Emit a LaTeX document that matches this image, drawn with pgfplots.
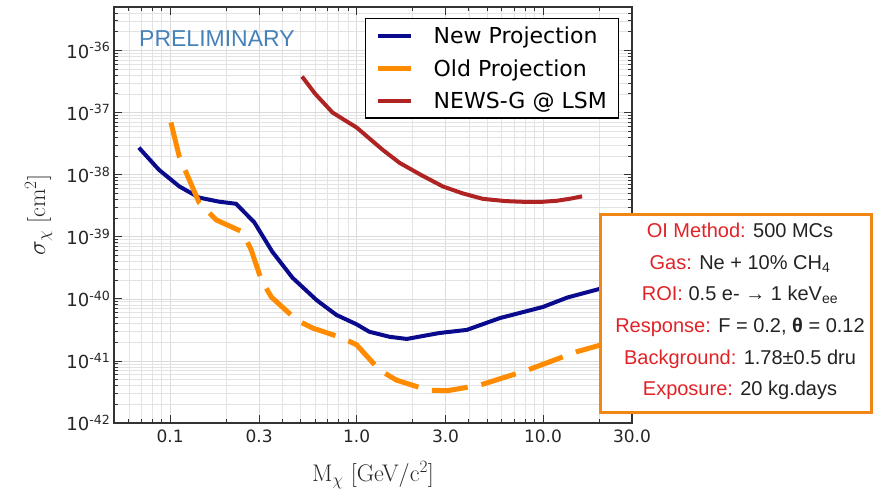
\documentclass[border=0pt]{standalone}
\usepackage{fontspec}
\usepackage{pgfplots}
\pgfplotsset{compat=1.18}
\newfontfamily\dejavu{DejaVu Sans}
\newfontfamily\helv{Liberation Sans}
\definecolor{newblue}{RGB}{10,10,140}
\definecolor{oldorange}{RGB}{255,140,0}
\definecolor{newsred}{RGB}{175,35,35}
\definecolor{prelim}{RGB}{70,130,185}
\definecolor{boxred}{RGB}{225,35,40}
\definecolor{boxtext}{RGB}{35,35,35}
\definecolor{boxorange}{RGB}{240,135,20}
\begin{document}
\begin{tikzpicture}
\useasboundingbox (-114pt,-65pt) rectangle (759pt,423pt);
\begin{axis}[
  at={(0pt,0pt)}, anchor=south west,
  scale only axis, width=518pt, height=416pt,
  xmode=log, ymode=log,
  xmin=0.05, xmax=30, ymin=1e-42, ymax=5e-36,
  xtick={0.1,0.3,1,3,10,30},
  xticklabels={0.1,0.3,1.0,3.0,10.0,30.0},
  minor xtick={0.05,0.06,0.07,0.08,0.09,0.2,0.4,0.5,0.6,0.7,0.8,0.9,2,4,5,6,7,8,9,20},
  ytick={1e-42,1e-41,1e-40,1e-39,1e-38,1e-37,1e-36},
  yticklabels={10\textsuperscript{-42},10\textsuperscript{-41},10\textsuperscript{-40},10\textsuperscript{-39},10\textsuperscript{-38},10\textsuperscript{-37},10\textsuperscript{-36}},
  minor ytick={2e-42,3e-42,4e-42,5e-42,6e-42,7e-42,8e-42,9e-42,
    2e-41,3e-41,4e-41,5e-41,6e-41,7e-41,8e-41,9e-41,
    2e-40,3e-40,4e-40,5e-40,6e-40,7e-40,8e-40,9e-40,
    2e-39,3e-39,4e-39,5e-39,6e-39,7e-39,8e-39,9e-39,
    2e-38,3e-38,4e-38,5e-38,6e-38,7e-38,8e-38,9e-38,
    2e-37,3e-37,4e-37,5e-37,6e-37,7e-37,8e-37,9e-37,
    2e-36,3e-36,4e-36},
  grid=both,
  major grid style={black!14, line width=0.6pt},
  minor grid style={black!11, line width=0.5pt},
  tick align=inside,
  major tick length=8pt, minor tick length=4pt,
  every tick/.style={black!80, line width=0.8pt},
  axis line style={black!80, line width=1.5pt},
  xticklabel style={font=\dejavu\fontsize{17}{20}\selectfont, text=black!85, yshift=-3pt},
  yticklabel style={font=\dejavu\fontsize{18}{21}\selectfont, text=black!85},
  xlabel={M$_\chi$ [GeV/c$^2$]},
  ylabel={$\sigma_\chi$ [cm$^2$]},
  xlabel style={at={(axis description cs:0.5,-0.125)}, anchor=center, font=\fontsize{24}{28}\selectfont, text=black!85},
  ylabel style={at={(axis description cs:-0.1455,0.5)}, anchor=center, rotate=0, font=\fontsize{24}{28}\selectfont, text=black!85},
  legend cell align=left,
  legend image code/.code={\draw[#1, solid] (0pt,0pt) -- (33pt,0pt);},
  legend style={at={(axis description cs:0.4846,0.9736)}, anchor=north west,
    draw=black, line width=1.3pt, fill=white,
    font=\dejavu\fontsize{22}{26}\selectfont, text=black,
    inner xsep=10pt, inner ysep=6pt, row sep=10.5pt,
    /tikz/every odd column/.append style={column sep=18pt}},
]
\addplot[newblue, line width=4pt] coordinates {
(0.068,2.72e-38) (0.087,1.20e-38) (0.112,6.46e-39) (0.143,4.27e-39)
(0.183,3.67e-39) (0.226,3.39e-39) (0.283,1.70e-39) (0.353,5.75e-40)
(0.453,2.19e-40) (0.61,9.55e-41) (0.78,5.50e-41) (1.0,3.89e-41)
(1.17,2.95e-41) (1.5,2.45e-41) (1.86,2.26e-41) (2.79,2.82e-41)
(3.9,3.16e-41) (5.87,4.90e-41) (10,7.41e-41) (13.5,1.05e-40)
(20.2,1.45e-40) (30,1.70e-40)};
\addlegendentry{New Projection}
\addplot[oldorange, line width=5pt, dash pattern=on 36pt off 14pt] coordinates {
(0.101,6.92e-38) (0.112,1.95e-38) (0.143,3.55e-39) (0.177,1.86e-39)
(0.244,1.20e-39) (0.272,6.17e-40) (0.308,2.04e-40) (0.349,1.07e-40)
(0.476,4.57e-41) (0.58,3.39e-41) (0.84,2.34e-41) (1.0,1.82e-41)
(1.33,7.08e-42) (1.64,4.90e-42) (2.41,3.39e-42) (3.05,3.31e-42)
(4.58,4.07e-42) (8.2,7.08e-42) (15.2,1.41e-41) (19.5,1.74e-41)
(30,2.51e-41)};
\addlegendentry{Old Projection}
\addplot[newsred, line width=4pt] coordinates {
(0.51,3.80e-37) (0.6,2.0e-37) (0.743,1.0e-37) (0.86,7.6e-38) (1.0,5.75e-38)
(1.38,2.51e-38) (1.70,1.55e-38) (2.2,1.0e-38) (2.9,6.46e-39) (3.7,5.0e-39)
(4.76,4.07e-39) (6.3,3.75e-39) (8.2,3.63e-39) (10,3.66e-39)
(11.9,3.80e-39) (14,4.1e-39) (16.2,4.47e-39)};
\addlegendentry{NEWS-G @ LSM}
\end{axis}
\node[anchor=west, inner sep=0pt, text=prelim, font=\helv\fontsize{23}{27}\selectfont] at (25pt,384pt) {PRELIMINARY};
\draw[boxorange, line width=3pt, fill=white] (486pt,11pt) rectangle (757.5pt,209pt);
\node[align=center, inner sep=0pt, text=boxtext, font=\helv\fontsize{20}{31.7}\selectfont] at (626pt,111.5pt) {%
\textcolor{boxred}{OI Method:} 500 MCs\\
\textcolor{boxred}{Gas:} Ne + 10\% CH\textsubscript{4}\\
\textcolor{boxred}{ROI:} 0.5 e- → 1 keV\textsubscript{ee}\\
\textcolor{boxred}{Response:} F = 0.2, \textbf{θ} = 0.12\\
\textcolor{boxred}{Background:} 1.78±0.5 dru\\
\textcolor{boxred}{Exposure:} 20 kg.days};
\end{tikzpicture}
\end{document}
